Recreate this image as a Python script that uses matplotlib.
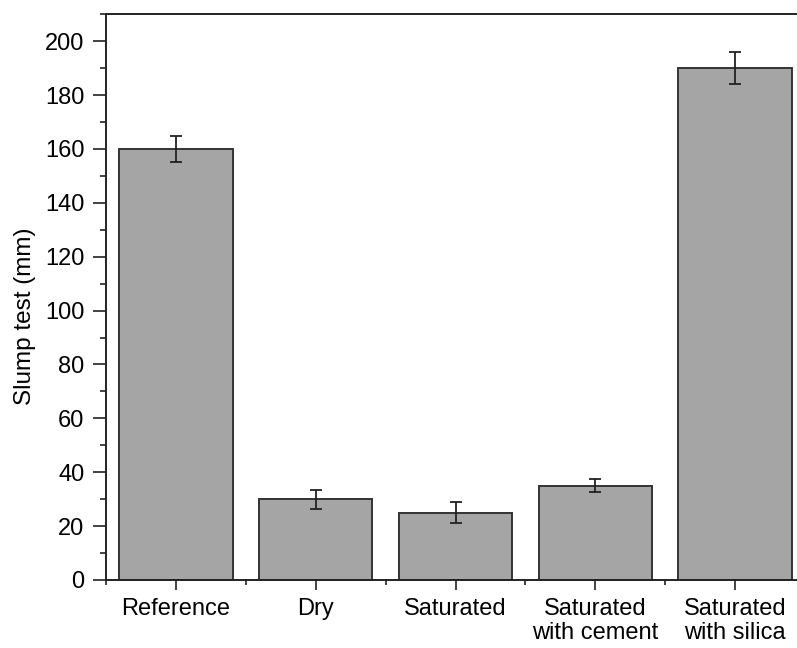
import matplotlib.pyplot as plt
from matplotlib.ticker import MultipleLocator

plt.rcParams['font.family'] = ['Liberation Sans', 'DejaVu Sans']

categories = ['Reference', 'Dry', 'Saturated', 'Saturated\nwith cement', 'Saturated\nwith silica']
slump = [160, 30, 25, 35, 190]
slump_err = [5, 3.5, 4, 2.5, 6]

fig = plt.figure(figsize=(7.97, 6.48), dpi=100)
ax = fig.add_axes([106 / 797, 1 - 580 / 648, 699 / 797, 565.7 / 648])

x = range(len(categories))
ax.bar(x, slump, width=0.81, color='#a5a5a5', edgecolor='#333333', linewidth=1.4, zorder=2)
ax.errorbar(x, slump, yerr=slump_err, fmt='none', ecolor='#222222',
            elinewidth=1.3, capsize=4, capthick=1.3, zorder=3)

ax.set_xlim(-0.5, 4.5)
ax.set_ylim(0, 210)
ax.set_xticks(list(x))
ax.set_xticklabels(categories, linespacing=1.1)
ax.xaxis.set_minor_locator(MultipleLocator(1, offset=0.5))
ax.yaxis.set_major_locator(MultipleLocator(20))
ax.yaxis.set_minor_locator(MultipleLocator(10))

ax.tick_params(axis='both', which='both', direction='out', width=1.2, color='#222222')
ax.tick_params(axis='both', which='major', labelsize=17)
ax.tick_params(axis='y', which='major', length=9.4, pad=6)
ax.tick_params(axis='x', which='major', length=7.2, pad=6)
ax.tick_params(axis='y', which='minor', length=4.3)
ax.tick_params(axis='x', which='minor', length=3.6)
for s in ax.spines.values():
    s.set_linewidth(1.4)
    s.set_color('#222222')

ax.set_ylabel('Slump test (mm)', fontsize=17.5)
ax.yaxis.set_label_coords(-0.100, 0.466)

fig.savefig('out.png', dpi=100)
